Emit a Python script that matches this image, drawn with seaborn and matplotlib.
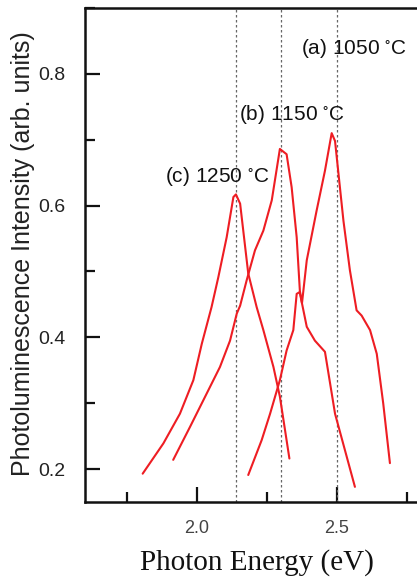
import matplotlib
matplotlib.use('Agg')
import pandas as pd
import matplotlib.pyplot as plt
import seaborn as sns
from matplotlib.ticker import MultipleLocator

sns.set_theme(style="ticks")
plt.rcParams['font.family'] = ['Liberation Sans', 'DejaVu Sans']
plt.rcParams['mathtext.default'] = 'regular'

# PL spectra (photon energy in eV, intensity in arb. units)
energy_a = [2.183, 2.231, 2.261, 2.296, 2.320, 2.344, 2.356, 2.368, 2.375, 2.392,
            2.427, 2.457, 2.481, 2.493, 2.523, 2.546, 2.570, 2.588, 2.618, 2.642,
            2.665, 2.689]
intens_a = [0.191, 0.244, 0.284, 0.335, 0.380, 0.411, 0.466, 0.469, 0.452, 0.517,
            0.592, 0.653, 0.710, 0.698, 0.577, 0.502, 0.441, 0.433, 0.411, 0.375,
            0.300, 0.209]

energy_b = [1.915, 1.975, 2.035, 2.082, 2.118, 2.142, 2.154, 2.177, 2.207, 2.237,
            2.267, 2.296, 2.320, 2.338, 2.356, 2.368, 2.392, 2.421, 2.457, 2.493,
            2.564]
intens_b = [0.214, 0.264, 0.315, 0.355, 0.395, 0.436, 0.448, 0.486, 0.532, 0.562,
            0.608, 0.686, 0.678, 0.628, 0.552, 0.466, 0.416, 0.395, 0.378, 0.284,
            0.173]

energy_c = [1.806, 1.880, 1.939, 1.987, 2.017, 2.052, 2.076, 2.106, 2.130, 2.139,
            2.154, 2.183, 2.213, 2.237, 2.273, 2.296, 2.330]
intens_c = [0.193, 0.239, 0.284, 0.335, 0.390, 0.446, 0.491, 0.552, 0.613, 0.617,
            0.603, 0.497, 0.446, 0.411, 0.355, 0.310, 0.216]

samples = ['(a) 1050 $^{\\circ}$C', '(b) 1150 $^{\\circ}$C', '(c) 1250 $^{\\circ}$C']
label_pos = [(2.372, 0.839), (2.150, 0.739), (1.885, 0.644)]
peak_lines = [2.14, 2.30, 2.50]

frames = []
for name, e, i in zip(samples, [energy_a, energy_b, energy_c], [intens_a, intens_b, intens_c]):
    frames.append(pd.DataFrame({'Energy': e, 'PL': i, 'Sample': name}))
df = pd.concat(frames, ignore_index=True)

W, H = 417, 583
fig = plt.figure(figsize=(W / 100, H / 100), dpi=100)
ax = fig.add_axes([85 / W, 1 - 502 / H, (421 - 85) / W, (502 - 8) / H])

red = '#ee1d23'
sns.lineplot(data=df, x='Energy', y='PL', hue='Sample', palette=[red] * 3,
             sort=False, estimator=None, legend=False, linewidth=1.5, ax=ax)

for xv in peak_lines:
    ax.axvline(xv, color='#666666', linestyle=(0, (2, 2)), linewidth=0.9, zorder=1)

for name, (xt, yt) in zip(samples, label_pos):
    ax.text(xt, yt, name, fontsize=15, color='#111111', ha='left', va='center')

ax.set_xlim(1.6, 2.8)
ax.set_ylim(0.15, 0.9)
ax.xaxis.set_minor_locator(MultipleLocator(0.25))
ax.yaxis.set_minor_locator(MultipleLocator(0.1))
ax.set_xticks([2.0, 2.5])
ax.set_xticklabels(['2.0', '2.5'])
ax.set_yticks([0.2, 0.4, 0.6, 0.8])
ax.set_yticklabels(['0.2', '0.4', '0.6', '0.8'])

ax.tick_params(which='major', direction='in', length=11, width=1.6, color='#111111')
ax.tick_params(which='minor', direction='in', length=7, width=1.6, color='#111111')
ax.tick_params(axis='y', labelsize=14, pad=14, labelcolor='#222222')
ax.tick_params(axis='x', labelsize=13, pad=13, labelcolor='#444444')

for side in ['left', 'bottom', 'top']:
    ax.spines[side].set_linewidth(1.8)
    ax.spines[side].set_color('#111111')
ax.spines['right'].set_visible(False)

ax.set_xlabel('')
ax.set_ylabel('')
fig.text(23 / W, 1 - 254 / H, 'Photoluminescence Intensity (arb. units)',
         rotation=90, ha='center', va='center', fontsize=18, color='#222222')
fig.text(257 / W, 1 - 563 / H, 'Photon Energy (eV)', ha='center', va='center',
         fontsize=21, family='Liberation Serif', color='#111111')

fig.savefig('out.png', dpi=100)
